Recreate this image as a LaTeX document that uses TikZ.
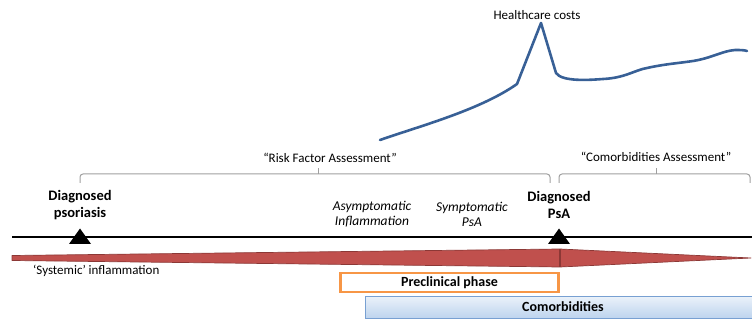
\documentclass[tikz,border=0pt]{standalone}
\usepackage{fontspec}
\setmainfont{Carlito}
\usetikzlibrary{shapes.geometric}
\definecolor{costblue}{RGB}{56,96,150}
\definecolor{wedgered}{RGB}{192,80,77}
\definecolor{wedgeedge}{RGB}{140,56,54}
\definecolor{phaseorange}{RGB}{247,150,70}
\definecolor{comoredge}{RGB}{120,160,210}
\definecolor{comortop}{RGB}{235,242,250}
\definecolor{comorbot}{RGB}{190,212,238}
\begin{document}
\begin{tikzpicture}[x=1pt,y=-1pt,
  lbl/.style={font=\fontsize{13}{14}\selectfont, inner sep=0pt, align=center},
  bold/.style={lbl, font=\fontsize{14.5}{17.5}\selectfont\bfseries},
  ital/.style={lbl, font=\fontsize{13.5}{15}\selectfont\itshape},
  brace/.style={draw=gray!75, line width=1pt, rounded corners=3pt},
  tri/.style={fill=black, draw=none},
]
\useasboundingbox (0,0) rectangle (752,320);

% healthcare costs
\node[lbl] (hc) at (537,15) {Healthcare costs};
\coordinate (c0) at (380,140);
\coordinate (cpk) at (541,23);
\draw[costblue, line width=2.6pt, line join=round, line cap=round]
  (c0) .. controls (420,126) and (480,110) .. (517,84)
  -- (cpk) -- (556,73)
  .. controls (562,82) and (590,80) .. (603,79)
  .. controls (625,78) and (635,70) .. (647,68)
  .. controls (665,64) and (680,63) .. (693,61)
  .. controls (712,58) and (722,51) .. (735,50)
  .. controls (740,50) and (744,50) .. (747,51);

% assessment brackets
\node[lbl] (rfa) at (330,158) {“Risk Factor Assessment”};
\coordinate (b1l) at (80,183);
\coordinate (b1r) at (550,183);
\coordinate (b1t) at (318,174);
\draw[brace] (b1l) -- (80,174) -- (550,174) -- (b1r);
\draw[brace] (b1t) -- (318,168);
\node[lbl] (cma) at (656,157) {“Comorbidities Assessment”};
\coordinate (b2l) at (559,183);
\coordinate (b2r) at (750,183);
\coordinate (b2t) at (656,174);
\draw[brace] (b2l) -- (559,174) -- (750,174) -- (b2r);
\draw[brace] (b2t) -- (656,168);

% labels above timeline
\node[bold] (dps) at (80,205) {Diagnosed\\psoriasis};
\node[bold] (dpa) at (559,205) {Diagnosed\\PsA};
\node[ital] (asy) at (372,214) {Asymptomatic\\Inflammation};
\node[ital] (sym) at (472,214) {Symptomatic\\PsA};

% timeline
\coordinate (tl) at (12,237);
\coordinate (tr) at (752,237);
\draw[black, line width=1.6pt] (tl) -- (tr);
\fill[tri] (80,228.5) -- (91,244) -- (69,244) -- cycle;
\fill[tri] (559,228.5) -- (570,244) -- (548,244) -- cycle;

% inflammation wedge
\coordinate (wl) at (12,258);
\coordinate (wr) at (751,258);
\draw[fill=wedgered, draw=wedgeedge, line width=0.7pt, line join=round]
  (12,255.5) -- (560,249) -- (wr) -- (560,267) -- (12,260.5) -- cycle;
\draw[wedgeedge, line width=1.6pt] (560,249) -- (560,267);
\node[lbl, anchor=west] (sys) at (33,271) {‘Systemic’ inflammation};

% preclinical phase
\node[draw=phaseorange, line width=2.4pt, minimum width=218pt, minimum height=19pt,
  inner sep=0pt, font=\fontsize{14}{16}\selectfont\bfseries] (pre) at (449.5,282.5) {Preclinical phase};

% comorbidities
\shade[top color=comortop, bottom color=comorbot] (365,296) rectangle (752,318);
\draw[comoredge, line width=0.8pt] (752,296) -- (365,296) -- (365,318) -- (752,318);
\node[lbl, font=\fontsize{14}{16}\selectfont\bfseries] (com) at (563,307) {Comorbidities};
\end{tikzpicture}
\end{document}
